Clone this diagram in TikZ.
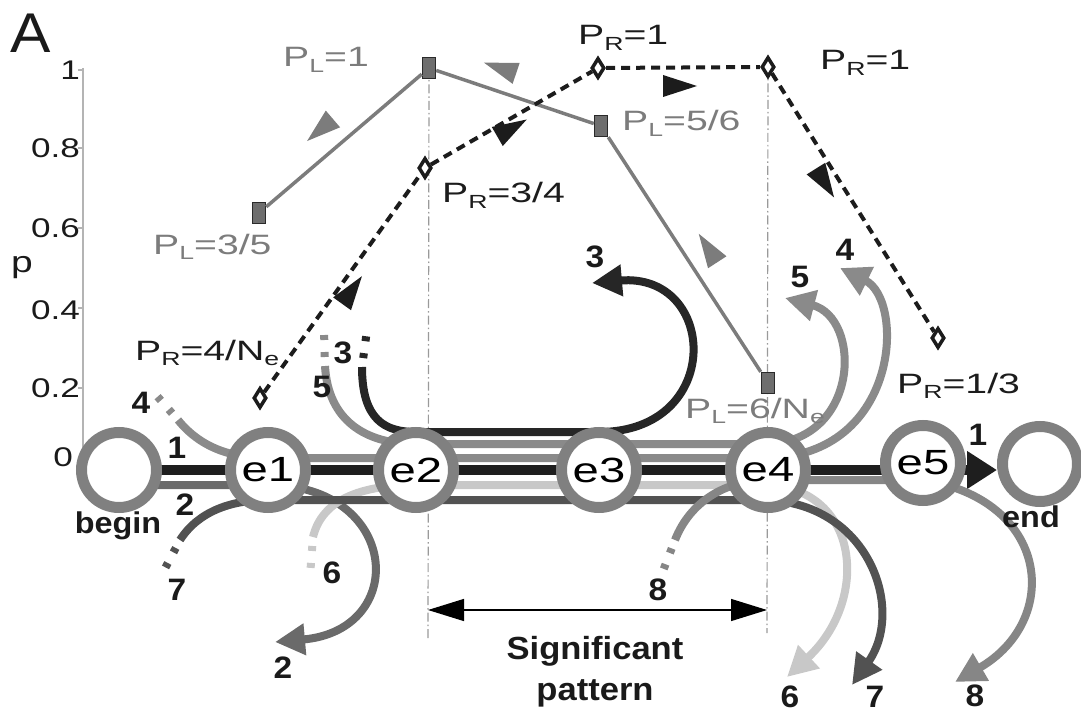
\documentclass[tikz,border=0pt]{standalone}
\usepackage{fontspec}
\setmainfont{Liberation Sans}
\newfontfamily\plfont[FakeStretch=1.4]{Liberation Sans}
\newfontfamily\tickfont[FakeStretch=1.3]{Liberation Sans}
\newfontfamily\lblfont[FakeStretch=1.08]{Liberation Sans}
\newfontfamily\evfont[FakeStretch=1.35]{Liberation Sans}
\usetikzlibrary{arrows.meta,shapes.geometric}
\pgfdeclarelayer{back}
\pgfdeclarelayer{tracks}
\pgfsetlayers{back,tracks,main}

\definecolor{ring}{HTML}{808080}
\definecolor{tk1}{HTML}{1E1E1E}
\definecolor{tk2}{HTML}{6A6A6A}
\definecolor{tk3}{HTML}{262626}
\definecolor{tk4}{HTML}{8A8A8A}
\definecolor{tk5}{HTML}{8A8A8A}
\definecolor{tk6}{HTML}{C8C8C8}
\definecolor{tk7}{HTML}{525252}
\definecolor{tk8}{HTML}{868686}
\definecolor{plcol}{HTML}{7C7C7C}
\definecolor{prcol}{HTML}{1C1C1C}
\definecolor{sqfill}{HTML}{6E6E6E}
\definecolor{sqedge}{HTML}{2A2A2A}
\definecolor{vcol}{HTML}{9A9A9A}
\definecolor{axcol}{HTML}{B4B4B4}
\definecolor{lblcol}{HTML}{1A1A1A}

% lowered, smaller subscript letter for the probability labels
\newcommand\psub[1]{\raisebox{-5.5pt}{\fontsize{19}{19}\selectfont #1}}
% small direction triangle beside a probability line
\newcommand\dirtri[3]{\fill[#1, shift={(#2)}, rotate=#3] (17,0) -- (-17,11) -- (-17,-11) -- cycle;}

\tikzset{
  evnode/.style={circle, draw=ring, line width=11pt, fill=white, minimum size=75pt,
    inner sep=0pt, font=\evfont\fontsize{35}{35}\selectfont},
  trk/.style={line width=8pt, line cap=butt},
  tip/.style={-{Triangle[length=30pt,width=30pt]}},
  stub/.style={line width=8pt, dash pattern=on 0pt off 9pt on 5pt off 12pt on 5pt off 60pt},
  plsq/.style={rectangle, fill=sqfill, draw=sqedge, line width=1.5pt,
    minimum width=13pt, minimum height=21pt, inner sep=0pt},
  prdia/.style={diamond, fill=white, draw=prcol, line width=3.5pt,
    minimum width=13pt, minimum height=20pt, inner sep=0pt},
  plline/.style={draw=plcol, line width=3.5pt},
  prline/.style={draw=prcol, line width=4pt, dash pattern=on 9pt off 6pt},
  pltri/.style={fill=plcol},
  prtri/.style={fill=prcol},
  vline/.style={draw=vcol, line width=1.2pt, dash pattern=on 9pt off 3pt on 1.5pt off 3pt},
  plab/.style={inner sep=0pt, anchor=base west, font=\plfont\fontsize{28}{28}\selectfont},
  nlab/.style={inner sep=0pt, text=lblcol, font=\lblfont\bfseries\fontsize{31}{31}\selectfont},
  wlab/.style={inner sep=0pt, anchor=base, text=lblcol, font=\lblfont\bfseries\fontsize{30}{30}\selectfont},
  ticklab/.style={inner sep=0pt, anchor=east, text=lblcol, font=\tickfont\fontsize{27}{27}\selectfont},
}

\begin{document}
\begin{tikzpicture}[x=1pt,y=1pt]
\useasboundingbox (0,0) rectangle (1081,-714);

% ---------------- event nodes ----------------
\node[evnode] (nbegin) at (119,-470) {};
\node[evnode] (e1) at (268,-470) {e1};
\node[evnode] (e2) at (416,-470) {e2};
\node[evnode] (e3) at (599,-470) {e3};
\node[evnode] (e4) at (768,-470) {e4};
\node[evnode] (e5) at (923,-463) {e5};
\node[evnode] (nend) at (1040,-464) {};

% ---------------- probability markers ----------------
\node[plsq] (pl1) at (259,-213) {};
\node[plsq] (pl2) at (429,-68) {};
\node[plsq] (pl3) at (601,-126) {};
\node[plsq] (pl4) at (768,-383) {};
\node[prdia] (pr1) at (260,-398) {};
\node[prdia] (pr2) at (425,-168) {};
\node[prdia] (pr3) at (598,-68) {};
\node[prdia] (pr4) at (768,-67) {};
\node[prdia] (pr5) at (938,-338) {};

% free ends of the tracks
\coordinate (t2e) at (275,-642);
\coordinate (t3a) at (362,-367); \coordinate (t3e) at (592,-283);
\coordinate (t4a) at (178,-420); \coordinate (t4e) at (840,-268);
\coordinate (t5a) at (325,-366); \coordinate (t5e) at (785,-298);
\coordinate (t6a) at (313,-537); \coordinate (t6e) at (787,-677);
\coordinate (t7a) at (180,-540); \coordinate (t7e) at (852,-685);
\coordinate (t8a) at (675,-540); \coordinate (t8e) at (955,-682);
% ends of the guide lines
\coordinate (axtop) at (83,-68); \coordinate (axbot) at (83,-470);
\coordinate (vL) at (428,-640); \coordinate (vR) at (767,-633);
\coordinate (sigL) at (428,-610); \coordinate (sigR) at (767,-610);

% ---------------- axis and guides ----------------
\begin{pgfonlayer}{back}
  \draw[axcol, line width=1.2pt] (axtop) -- (axbot);
  \foreach \yy in {-70,-148,-228,-308,-388}
    \draw[axcol, line width=1.2pt] (78,\yy) -- (83,\yy);
  \draw[vline] (pl2.center) -- (vL);
  \draw[vline] (pr4.center) -- (vR);
\end{pgfonlayer}
\draw[line width=1.3pt, {Triangle[length=36pt,width=22pt]}-{Triangle[length=36pt,width=22pt]}] (sigL) -- (sigR);

% ---------------- tracks ----------------
\begin{pgfonlayer}{tracks}
  % 1
  \draw[trk, line width=10pt, draw=tk1, -{Triangle[length=30pt,width=36pt]}]
    (nbegin.center) -- (nend.west |- nbegin.center);
  % 2
  \draw[trk, draw=tk2, tip] ([yshift=-15pt]nbegin.center) -- ([yshift=-15pt]e1.center)
    .. controls (400,-485) and (410,-630) .. (t2e);
  % 3
  \draw[trk, draw=tk3, tip] (t3a) .. controls (362,-420) and (385,-432) .. ([yshift=38pt]e2.center)
    -- ([yshift=38pt]e3.center) .. controls (725,-432) and (718,-272) .. (t3e);
  \draw[stub, draw=tk3] (t3a) -- (367,-330);
  % 4
  \draw[trk, draw=tk4, tip] (t4a) .. controls (200,-447) and (230,-458) .. ([yshift=12pt]e1.center)
    -- ([yshift=12pt]e4.center) .. controls (900,-455) and (905,-300) .. (t4e);
  \draw[stub, draw=tk4] (t4a) -- (150,-388);
  % 5
  \draw[trk, draw=tk5, tip] (t5a) .. controls (328,-420) and (365,-444) .. ([yshift=26pt]e2.center)
    -- ([yshift=26pt]e4.center) .. controls (860,-440) and (862,-318) .. (t5e);
  \draw[stub, draw=tk5] (t5a) -- (324,-330);
  % 6
  \draw[trk, draw=tk6, tip] (t6a) .. controls (322,-500) and (360,-485) .. ([yshift=-15pt]e2.center)
    -- ([yshift=-15pt]e4.center) .. controls (860,-490) and (870,-600) .. (t6e);
  \draw[stub, draw=tk6] (t6a) -- (310,-576);
  % 7
  \draw[trk, draw=tk7, tip] (t7a) .. controls (198,-512) and (230,-500) .. ([yshift=-30pt]e1.center)
    -- ([yshift=-30pt]e4.center) .. controls (870,-505) and (905,-610) .. (t7e);
  \draw[stub, draw=tk7] (t7a) -- (161,-576);
  % 8
  \draw[trk, draw=tk8, tip] (t8a) .. controls (690,-502) and (725,-480) .. ([yshift=-10pt]e4.center)
    -- ([yshift=-17pt]e5.center) .. controls (1050,-500) and (1062,-620) .. (t8e);
  \draw[stub, draw=tk8] (t8a) -- (661,-576);
\end{pgfonlayer}

% ---------------- probability lines ----------------
\draw[plline] (pl1) -- (pl2) -- (pl3) -- (pl4);
\draw[prline] (pr1) -- (pr2) -- (pr3) -- (pr4) -- (pr5);
\dirtri{pltri}{320,-130}{220.5}
\dirtri{pltri}{500,-68}{161.4}
\dirtri{pltri}{708,-248}{123}
\dirtri{prtri}{352,-290}{54.3}
\dirtri{prtri}{512,-128}{30}
\dirtri{prtri}{680,-86}{0}
\dirtri{prtri}{825,-183}{-57.9}

% ---------------- probability labels ----------------
\node[plab, text=plcol] (lpl1) at (283,-67) {P\psub{L}=1};
\node[plab, text=plcol] (lpl2) at (622,-131) {P\psub{L}=5/6};
\node[plab, text=plcol] (lpl3) at (153,-254) {P\psub{L}=3/5};
\node[plab, text=plcol] (lpl4) at (685,-418) {P\psub{L}=6/N\psub{e}};
\node[plab, text=prcol] (lpr1) at (578,-45) {P\psub{R}=1};
\node[plab, text=prcol] (lpr2) at (820,-70) {P\psub{R}=1};
\node[plab, text=prcol] (lpr3) at (442,-203) {P\psub{R}=3/4};
\node[plab, text=prcol] (lpr4) at (135,-360) {P\psub{R}=4/N\psub{e}};
\node[plab, text=prcol] (lpr5) at (897,-393) {P\psub{R}=1/3};

% ---------------- axis labels ----------------
\node[inner sep=0pt, anchor=base west, text=lblcol, font=\lblfont\fontsize{56}{56}\selectfont] (panel) at (10,-53) {A};
\node[ticklab] (y10) at (80,-70) {1};
\node[ticklab] (y08) at (80,-148) {0.8};
\node[ticklab] (y06) at (80,-228) {0.6};
\node[ticklab] (y04) at (80,-310) {0.4};
\node[ticklab] (y02) at (80,-388) {0.2};
\node[ticklab] (y00) at (73,-457) {0};
\node[inner sep=0pt, text=lblcol, font=\tickfont\fontsize{30}{30}\selectfont] (ylab) at (22,-268) {p};

% ---------------- track numbers ----------------
\node[nlab] (n1a) at (177,-448) {1};
\node[nlab] (n2a) at (185,-505) {2};
\node[nlab] (n4a) at (141,-403) {4};
\node[nlab] (n7a) at (177,-590) {7};
\node[nlab] (n6a) at (332,-573) {6};
\node[nlab] (n2b) at (283,-668) {2};
\node[nlab] (n5a) at (322,-387) {5};
\node[nlab] (n3a) at (343,-353) {3};
\node[nlab] (n3b) at (595,-257) {3};
\node[nlab] (n5b) at (800,-277) {5};
\node[nlab] (n4b) at (845,-250) {4};
\node[nlab] (n8a) at (658,-590) {8};
\node[nlab] (n6b) at (790,-697) {6};
\node[nlab] (n7b) at (875,-697) {7};
\node[nlab] (n8b) at (975,-696) {8};
\node[nlab] (n1b) at (978,-435) {1};

% ---------------- words ----------------
\node[wlab] (wbegin) at (118,-533) {begin};
\node[wlab] (wend) at (1031,-527) {end};
\node[wlab, font=\lblfont\bfseries\fontsize{32}{32}\selectfont] (wsig) at (595,-659) {Significant};
\node[wlab, font=\lblfont\bfseries\fontsize{32}{32}\selectfont] (wpat) at (595,-700) {pattern};
\end{tikzpicture}
\end{document}
